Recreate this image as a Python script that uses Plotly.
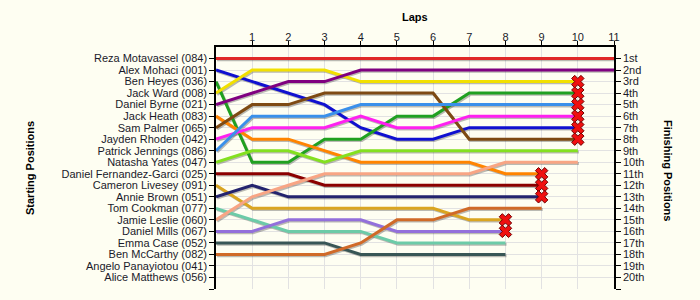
import plotly.graph_objects as go

drivers = [
    "Reza Motavassel (084)", "Alex Mohaci (001)", "Ben Heyes (036)", "Jack Ward (008)",
    "Daniel Byrne (021)", "Jack Heath (083)", "Sam Palmer (065)", "Jayden Rhoden (042)",
    "Patrick Jennings (086)", "Natasha Yates (047)", "Daniel Fernandez-Garci (025)",
    "Cameron Livesey (091)", "Annie Brown (051)", "Tom Cookman (077)", "Jamie Leslie (060)",
    "Daniel Mills (067)", "Emma Case (052)", "Ben McCarthy (082)", "Angelo Panayiotou (041)",
    "Alice Matthews (056)",
]
colors = [
    "#E02828", "#1010D0", "#20A020", "#F2E000", "#800080", "#FF8400", "#7E4A12", "#FF20F0",
    "#3A90EA", "#84E020", "#8B0000", "#DAA520", "#23236E", "#6CCBA8", "#F8A584", "#9370DB",
    "#385656", "#D06A28", "#888888", "#888888",
]
# positions per lap (lap 0 = grid position)
positions = [
    [1, 1, 1, 1, 1, 1, 1, 1, 1, 1, 1, 1],
    [2, 3, 4, 5, 7, 8, 8, 7, 7, 7, 7],
    [3, 10, 10, 8, 8, 6, 6, 4, 4, 4, 4],
    [4, 2, 2, 2, 3, 3, 3, 3, 3, 3, 3],
    [5, 4, 3, 3, 2, 2, 2, 2, 2, 2, 2, 2],
    [6, 8, 8, 9, 10, 10, 10, 10, 11, 11],
    [7, 5, 5, 4, 4, 4, 4, 8, 8, 8, 8],
    [8, 7, 7, 7, 6, 7, 7, 6, 6, 6, 6],
    [9, 6, 6, 6, 5, 5, 5, 5, 5, 5, 5],
    [10, 9, 9, 10, 9, 9, 9, 9, 9, 9, 9],
    [11, 11, 11, 12, 12, 12, 12, 12, 12, 12],
    [12, 14, 14, 14, 14, 14, 14, 15, 15],
    [13, 12, 13, 13, 13, 13, 13, 13, 13, 13],
    [14, 15, 16, 16, 16, 17, 17, 17, 17],
    [15, 13, 12, 11, 11, 11, 11, 11, 10, 10, 10],
    [16, 16, 15, 15, 15, 16, 16, 16, 16],
    [17, 17, 17, 17, 18, 18, 18, 18, 18],
    [18, 18, 18, 18, 17, 15, 15, 14, 14, 14],
    [],
    [],
]
retired = [False, True, True, True, False, True, True, True, True, False,
           True, True, True, False, False, True, False, False, False, False]
finish_labels = ["1st", "2nd", "3rd", "4th", "5th", "6th", "7th", "8th", "9th", "10th",
                 "11th", "12th", "13th", "14th", "15th", "16th", "17th", "18th", "19th", "20th"]
laps = list(range(1, 12))

fig = go.Figure()

# shadows
for pos in positions:
    if not pos:
        continue
    fig.add_trace(go.Scatter(
        x=[i + 0.03 for i in range(len(pos))], y=[p + 0.11 for p in pos],
        mode="lines", line=dict(color="rgba(60,60,60,0.35)", width=3),
        hoverinfo="skip", showlegend=False))

for name, col, pos in zip(drivers, colors, positions):
    if not pos:
        continue
    fig.add_trace(go.Scatter(
        x=list(range(len(pos))), y=pos, mode="lines", name=name,
        line=dict(color=col, width=3), showlegend=False))

rx = [len(p) - 1 for p, r in zip(positions, retired) if r]
ry = [p[-1] for p, r in zip(positions, retired) if r]
fig.add_trace(go.Scatter(
    x=rx, y=ry, mode="markers", showlegend=False,
    marker=dict(symbol="x", size=11, color="#F01010", line=dict(color="#700000", width=1))))

# dummy for right axis
fig.add_trace(go.Scatter(x=[0], y=[1], yaxis="y2", mode="markers",
                         marker=dict(opacity=0), showlegend=False, hoverinfo="skip"))

tick_font = dict(family="Liberation Sans, Arial", size=11, color="#1a1a2a")
grid = "#E2E2E2"

fig.update_layout(
    width=700, height=300,
    margin=dict(l=216, r=86, t=47, b=11),
    paper_bgcolor="#FEFEF2", plot_bgcolor="#FEFEF2",
    xaxis=dict(side="top", range=[0, 11], tickvals=laps, ticktext=[str(l) for l in laps],
               showline=True, linecolor="black", linewidth=1.5, ticks="outside", ticklen=4,
               tickcolor="black", showgrid=True, gridcolor=grid, zeroline=False,
               tickfont=tick_font, mirror=False, ticklabelstandoff=-4),
    yaxis=dict(range=[21, 0], tickvals=list(range(1, 22)), ticktext=drivers + [""],
               showline=True, linecolor="black", linewidth=1.5, ticks="outside", ticklen=5,
               tickcolor="black", showgrid=True, gridcolor=grid, zeroline=False,
               tickfont=tick_font),
    yaxis2=dict(range=[21, 0], overlaying="y", side="right", tickvals=list(range(1, 22)),
                ticktext=finish_labels + [""], showline=True, linecolor="black", linewidth=1.5,
                ticks="outside", ticklen=5, tickcolor="black", showgrid=False, zeroline=False,
                tickfont=tick_font),
    annotations=[
        dict(text="<b>Laps</b>", x=415, y=17, showarrow=False,
             font=dict(family="Liberation Sans, Arial", size=11, color="black")),
        dict(text="<b>Starting Positions</b>", x=30, y=168, textangle=-90, showarrow=False,
             font=dict(family="Liberation Sans, Arial", size=11, color="black")),
        dict(text="<b>Finishing Positions</b>", x=668, y=170, textangle=90, showarrow=False,
             font=dict(family="Liberation Sans, Arial", size=11, color="black")),
    ],
)
# convert annotation pixel coords to paper coords
pw, ph = 700 - 216 - 86, 300 - 47 - 11
for a in fig.layout.annotations:
    a.xref = "paper"; a.yref = "paper"
    a.xanchor = "center"; a.yanchor = "middle"
    a.x = (a.x - 216) / pw
    a.y = 1 - (a.y - 47) / ph

fig.write_html("out.html")
